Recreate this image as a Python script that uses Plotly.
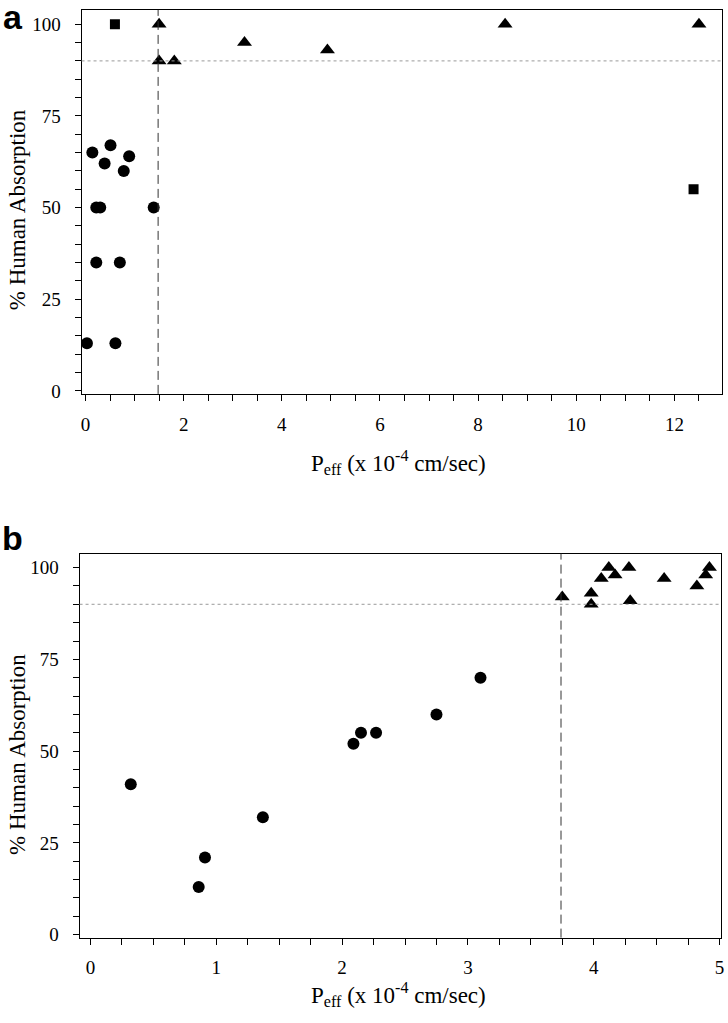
import plotly.graph_objects as go

# ---------------- data ----------------
# Panel a
a_circle_x = [0.03, 0.14, 0.22, 0.22, 0.30, 0.39, 0.51, 0.61, 0.70, 0.78, 0.89, 1.39]
a_circle_y = [13, 65, 35, 50, 50, 62, 67, 13, 35, 60, 64, 50]
a_square_x = [0.60, 12.39]
a_square_y = [100, 55]
a_tri_x = [1.50, 1.50, 1.81, 3.24, 4.93, 8.55, 12.50]
a_tri_y = [100, 90, 90, 95, 93, 100, 100]
a_cut_x = 1.48

# Panel b
b_circle_x = [0.32, 0.86, 0.91, 1.37, 2.09, 2.15, 2.27, 2.75, 3.10]
b_circle_y = [41, 13, 21, 32, 52, 55, 55, 60, 70]
b_tri_x = [3.75, 3.98, 3.98, 4.06, 4.12, 4.17, 4.28, 4.29, 4.56, 4.82, 4.89, 4.92]
b_tri_y = [92, 93, 90, 97, 100, 98, 100, 91, 97, 95, 98, 100]
b_cut_x = 3.74

cut_y = 90
y_ticks = [0, 25, 50, 75, 100]
a_x_ticks = [0, 2, 4, 6, 8, 10, 12]
b_x_ticks = [0, 1, 2, 3, 4, 5]

x_title = "P<sub>eff</sub> (x 10<sup>-4</sup> cm/sec)"
y_title = "% Human Absorption"

# ---------------- figure ----------------
OX, OY = 0, 0
W, H = 728, 1023
SERIF = "Liberation Serif, Times New Roman, serif"

fig = go.Figure()

def mk(x, y, symbol, size, xa, ya):
    return go.Scatter(x=x, y=y, mode="markers", xaxis=xa, yaxis=ya,
                      marker=dict(symbol=symbol, size=size, color="black",
                                  line=dict(width=0)),
                      showlegend=False, hoverinfo="x+y")

fig.add_trace(mk(a_circle_x, a_circle_y, "circle", 12, "x", "y"))
fig.add_trace(mk(a_square_x, a_square_y, "square", 10, "x", "y"))
fig.add_trace(mk(a_tri_x, a_tri_y, "triangle-up", 13, "x", "y"))
fig.add_trace(mk(b_circle_x, b_circle_y, "circle", 12, "x2", "y2"))
fig.add_trace(mk(b_tri_x, b_tri_y, "triangle-up", 13, "x2", "y2"))

def px_dom(a, b):
    return [(a - OX) / W, (b - OX) / W]

def py_dom(top, bottom):
    return [1 - (bottom - OY) / H, 1 - (top - OY) / H]

axis_common = dict(
    showline=True, linecolor="black", linewidth=1, mirror=True,
    ticks="outside", ticklen=6, tickwidth=1, tickcolor="black",
    showgrid=False, zeroline=False,
    tickfont=dict(family=SERIF, size=19, color="black"),
)

fig.update_layout(
    width=W, height=H,
    margin=dict(l=0, r=0, t=0, b=0),
    paper_bgcolor="white", plot_bgcolor="white",
    xaxis=dict(axis_common, domain=px_dom(81, 725), anchor="y",
               range=[-0.08, 12.97], tickvals=a_x_ticks, ticklabelstandoff=7,
               minor=dict(dtick=0.5, tick0=0, ticks="outside", ticklen=6,
                          tickcolor="black")),
    yaxis=dict(axis_common, domain=py_dom(10, 397), anchor="x",
               range=[-0.8, 103.9], tickvals=y_ticks, ticklabelstandoff=10,
               minor=dict(dtick=5, tick0=0, ticks="outside", ticklen=6,
                          tickcolor="black")),
    xaxis2=dict(axis_common, domain=px_dom(79, 724), anchor="y2",
                range=[-0.087, 5.012], tickvals=b_x_ticks, ticklabelstandoff=7,
                minor=dict(dtick=0.25, tick0=0, ticks="outside", ticklen=6,
                           tickcolor="black")),
    yaxis2=dict(axis_common, domain=py_dom(558, 945), anchor="x2",
                range=[-0.8, 103.8], tickvals=y_ticks, ticklabelstandoff=10,
                minor=dict(dtick=5, tick0=0, ticks="outside", ticklen=6,
                           tickcolor="black")),
)

# reference lines
for xa, ya, cx in (("x", "y", a_cut_x), ("x2", "y2", b_cut_x)):
    fig.add_shape(type="line", xref=xa, yref=f"{ya} domain",
                  x0=cx, x1=cx, y0=0, y1=1,
                  line=dict(color="#333333", width=1, dash="9px,5px"))
    fig.add_shape(type="line", xref=f"{xa} domain", yref=ya,
                  x0=0, x1=1, y0=cut_y, y1=cut_y,
                  line=dict(color="#9a9a9a", width=1, dash="dot"))

# axis titles and panel labels as annotations (page pixel positions)
def ann(text, x, y, size, angle=0, family=SERIF, bold=False):
    fig.add_annotation(text=f"<b>{text}</b>" if bold else text,
                       xref="paper", yref="paper",
                       x=(x - OX) / W, y=1 - (y - OY) / H, showarrow=False,
                       xanchor="center", yanchor="middle", textangle=angle,
                       font=dict(family=family, size=size, color="black"))

ann(y_title, 16, 211, 23, angle=-90)
ann(y_title, 16, 760, 23, angle=-90)
ann(x_title, 400, 466, 23)
ann(x_title, 400, 1002, 23)
ann("a", 12, 17, 34, family="Liberation Sans, Arial, sans-serif", bold=True)
ann("b", 12, 542, 34, family="Liberation Sans, Arial, sans-serif", bold=True)

# remove the default page margin so the figure sits at the window's corner
fig.write_html(
    "out.html",
    config={"displayModeBar": False},
    post_script="document.body.style.margin='0';"
                "document.body.style.overflow='hidden';",
)
